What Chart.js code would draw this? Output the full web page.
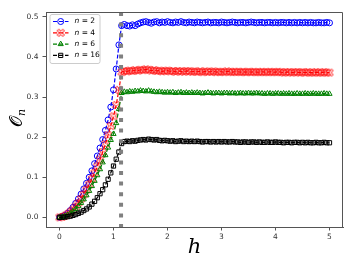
<!DOCTYPE html>
<html>
<head>
<meta charset="utf-8">
<script src="https://cdn.jsdelivr.net/npm/chart.js@4.4.0/dist/chart.umd.min.js"></script>
<style>
  html, body { margin: 0; padding: 0; background: #fff; }
  #wrap { width: 355px; height: 272px; }
</style>
</head>
<body>
<div id="wrap"><canvas id="orderChart" width="355" height="272"></canvas></div>
<script>
// field values h, rows of 10
const hValues = [
  0.00, 0.05, 0.10, 0.15, 0.20, 0.25, 0.30, 0.35, 0.40, 0.45,
  0.50, 0.55, 0.60, 0.65, 0.70, 0.75, 0.80, 0.85, 0.90, 0.95,
  1.00, 1.05, 1.10, 1.15, 1.20, 1.25, 1.30, 1.35, 1.40, 1.45,
  1.50, 1.55, 1.60, 1.65, 1.70, 1.75, 1.80, 1.85, 1.90, 1.95,
  2.00, 2.05, 2.10, 2.15, 2.20, 2.25, 2.30, 2.35, 2.40, 2.45,
  2.50, 2.55, 2.60, 2.65, 2.70, 2.75, 2.80, 2.85, 2.90, 2.95,
  3.00, 3.05, 3.10, 3.15, 3.20, 3.25, 3.30, 3.35, 3.40, 3.45,
  3.50, 3.55, 3.60, 3.65, 3.70, 3.75, 3.80, 3.85, 3.90, 3.95,
  4.00, 4.05, 4.10, 4.15, 4.20, 4.25, 4.30, 4.35, 4.40, 4.45,
  4.50, 4.55, 4.60, 4.65, 4.70, 4.75, 4.80, 4.85, 4.90, 4.95,
  5.00
];

const orderN2 = [
  0.000, 0.002, 0.005, 0.010, 0.017, 0.025, 0.035, 0.046, 0.058, 0.071,
  0.085, 0.100, 0.116, 0.134, 0.153, 0.173, 0.194, 0.217, 0.243, 0.275,
  0.318, 0.370, 0.430, 0.478, 0.481, 0.478, 0.477, 0.480, 0.478, 0.482,
  0.485, 0.487, 0.488, 0.486, 0.484, 0.487, 0.488, 0.485, 0.487, 0.486,
  0.488, 0.486, 0.485, 0.487, 0.486, 0.488, 0.486, 0.485, 0.487, 0.486,
  0.485, 0.487, 0.486, 0.485, 0.486, 0.487, 0.485, 0.486, 0.486, 0.485,
  0.487, 0.486, 0.485, 0.486, 0.487, 0.486, 0.485, 0.486, 0.486, 0.485,
  0.486, 0.487, 0.486, 0.485, 0.486, 0.486, 0.485, 0.486, 0.486, 0.485,
  0.486, 0.485, 0.486, 0.486, 0.485, 0.486, 0.485, 0.486, 0.485, 0.486,
  0.485, 0.486, 0.485, 0.486, 0.485, 0.485, 0.486, 0.485, 0.485, 0.486,
  0.485
];

const orderN4 = [
  0.000, 0.001, 0.004, 0.008, 0.013, 0.019, 0.027, 0.036, 0.046, 0.057,
  0.069, 0.082, 0.096, 0.111, 0.127, 0.144, 0.163, 0.183, 0.205, 0.228,
  0.252, 0.280, 0.318, 0.362, 0.365, 0.364, 0.366, 0.365, 0.367, 0.366,
  0.368, 0.367, 0.369, 0.368, 0.366, 0.367, 0.365, 0.366, 0.364, 0.365,
  0.366, 0.364, 0.365, 0.363, 0.365, 0.364, 0.363, 0.365, 0.364, 0.363,
  0.364, 0.363, 0.364, 0.362, 0.364, 0.363, 0.363, 0.364, 0.362, 0.363,
  0.363, 0.362, 0.364, 0.363, 0.362, 0.363, 0.363, 0.362, 0.363, 0.362,
  0.363, 0.362, 0.363, 0.362, 0.362, 0.363, 0.362, 0.362, 0.363, 0.362,
  0.362, 0.363, 0.362, 0.361, 0.362, 0.362, 0.361, 0.362, 0.362, 0.361,
  0.362, 0.361, 0.362, 0.361, 0.361, 0.362, 0.361, 0.361, 0.362, 0.361,
  0.361
];

const orderN6 = [
  0.000, 0.001, 0.003, 0.006, 0.010, 0.015, 0.021, 0.028, 0.036, 0.045,
  0.055, 0.066, 0.078, 0.091, 0.105, 0.120, 0.137, 0.155, 0.174, 0.193,
  0.208, 0.235, 0.270, 0.310, 0.313, 0.312, 0.314, 0.313, 0.315, 0.314,
  0.316, 0.315, 0.314, 0.316, 0.314, 0.313, 0.312, 0.313, 0.312, 0.311,
  0.312, 0.311, 0.312, 0.310, 0.311, 0.312, 0.310, 0.311, 0.310, 0.311,
  0.310, 0.311, 0.310, 0.309, 0.310, 0.311, 0.310, 0.309, 0.310, 0.310,
  0.309, 0.310, 0.310, 0.309, 0.310, 0.309, 0.309, 0.310, 0.309, 0.309,
  0.310, 0.309, 0.309, 0.310, 0.309, 0.309, 0.308, 0.309, 0.309, 0.308,
  0.309, 0.309, 0.308, 0.309, 0.308, 0.309, 0.308, 0.308, 0.309, 0.308,
  0.308, 0.309, 0.308, 0.308, 0.309, 0.308, 0.308, 0.308, 0.309, 0.308,
  0.308
];

const orderN16 = [
  0.0000, 0.0002, 0.0008, 0.0018, 0.003, 0.005, 0.007, 0.010, 0.013, 0.017,
  0.021, 0.026, 0.033, 0.040, 0.049, 0.059, 0.069, 0.081, 0.095, 0.111,
  0.128, 0.145, 0.163, 0.184, 0.189, 0.190, 0.189, 0.191, 0.190, 0.192,
  0.193, 0.194, 0.193, 0.195, 0.194, 0.193, 0.194, 0.192, 0.191, 0.192,
  0.191, 0.190, 0.191, 0.189, 0.190, 0.191, 0.189, 0.190, 0.189, 0.190,
  0.189, 0.190, 0.189, 0.188, 0.189, 0.189, 0.188, 0.189, 0.188, 0.189,
  0.188, 0.189, 0.188, 0.188, 0.189, 0.188, 0.188, 0.187, 0.188, 0.188,
  0.187, 0.188, 0.188, 0.187, 0.188, 0.187, 0.187, 0.188, 0.187, 0.187,
  0.188, 0.187, 0.187, 0.186, 0.187, 0.187, 0.186, 0.187, 0.187, 0.186,
  0.187, 0.186, 0.187, 0.186, 0.186, 0.187, 0.186, 0.186, 0.187, 0.186,
  0.186
];

const nLabels = ['2', '4', '6', '16'];
const xTicks = [0, 1, 2, 3, 4, 5];
const yTicks = [0.0, 0.1, 0.2, 0.3, 0.4, 0.5];
const hCritical = 1.14;

// hollow "X" marker like matplotlib's 'X' with no face
function makeXMarker(color) {
  const c = document.createElement('canvas');
  c.width = 10; c.height = 10;
  const g = c.getContext('2d');
  const r = 4, a = 0.28, k = Math.SQRT1_2;
  const pts = [[-a,1],[a,1],[a,a],[1,a],[1,-a],[a,-a],[a,-1],[-a,-1],[-a,-a],[-1,-a],[-1,a],[-a,a]];
  g.beginPath();
  pts.forEach(([px, py], i) => {
    const x = 5 + r * (px * k - py * k);
    const y = 5 + r * (px * k + py * k);
    if (i) g.lineTo(x, y); else g.moveTo(x, y);
  });
  g.closePath();
  g.strokeStyle = color;
  g.lineWidth = 1;
  g.stroke();
  return c;
}

const redX = makeXMarker('#ff0000');

function toPoints(vals) {
  return vals.map((v, i) => ({ x: hValues[i], y: v }));
}

const seriesDefs = [
  { data: orderN2, color: '#0000ff', style: 'circle', order: 3 },
  { data: orderN4, color: '#ff0000', style: redX, order: 2 },
  { data: orderN6, color: '#008000', style: 'triangle', order: 1 },
  { data: orderN16, color: '#000000', style: 'rect', order: 0 }
];

const tickFont = { family: 'DejaVu Sans', size: 7.5 };

const decorPlugin = {
  id: 'decor',
  afterDatasetsDraw(chart) {
    const { ctx, chartArea, scales } = chart;
    // dotted vertical line at the critical field
    const px = scales.x.getPixelForValue(hCritical);
    ctx.save();
    ctx.strokeStyle = '#808080';
    ctx.lineWidth = 4;
    ctx.setLineDash([4, 6.6]);
    ctx.beginPath();
    ctx.moveTo(px, chartArea.top);
    ctx.lineTo(px, chartArea.bottom);
    ctx.stroke();
    ctx.restore();
  },
  afterDraw(chart) {
    const { ctx, chartArea } = chart;
    ctx.save();
    // top and right spines
    ctx.strokeStyle = '#555';
    ctx.lineWidth = 1;
    ctx.beginPath();
    ctx.moveTo(Math.round(chartArea.left) + 0.5, Math.round(chartArea.top) + 0.5);
    ctx.lineTo(Math.round(chartArea.right) - 0.5, Math.round(chartArea.top) + 0.5);
    ctx.lineTo(Math.round(chartArea.right) - 0.5, Math.round(chartArea.bottom));
    ctx.stroke();

    // legend
    const lx = chartArea.left + 3.5, ly = chartArea.top + 2;
    ctx.fillStyle = 'rgba(255,255,255,0.85)';
    ctx.strokeStyle = '#cccccc';
    ctx.beginPath();
    ctx.roundRect(lx + 0.5, ly + 0.5, 50, 49, 2);
    ctx.fill();
    ctx.stroke();
    seriesDefs.forEach((s, i) => {
      const y = ly + 7.5 + i * 11.3;
      ctx.save();
      ctx.strokeStyle = s.color;
      ctx.lineWidth = 1.2;
      ctx.setLineDash([4, 2]);
      ctx.beginPath();
      ctx.moveTo(lx + 3.5, y);
      ctx.lineTo(lx + 19, y);
      ctx.stroke();
      ctx.setLineDash([]);
      ctx.fillStyle = 'rgba(0,0,0,0)';
      ctx.lineWidth = 1;
      Chart.helpers.drawPoint(ctx, { pointStyle: s.style, radius: 3, rotation: 0, borderWidth: 1 }, lx + 11.2, y);
      ctx.restore();
      ctx.fillStyle = '#000';
      ctx.textBaseline = 'middle';
      ctx.textAlign = 'left';
      ctx.font = 'italic 7.5px "DejaVu Sans"';
      ctx.fillText('n', lx + 25, y);
      const nw = ctx.measureText('n').width;
      ctx.font = '7.5px "DejaVu Sans"';
      ctx.fillText(' = ' + nLabels[i], lx + 25 + nw, y);
    });

    // axis titles
    ctx.fillStyle = '#000';
    ctx.textAlign = 'center';
    ctx.textBaseline = 'alphabetic';
    ctx.font = 'italic 21px "DejaVu Serif"';
    ctx.fillText('h', (chartArea.left + chartArea.right) / 2, 253);

    ctx.save();
    ctx.translate(22, 118);
    ctx.rotate(-Math.PI / 2);
    ctx.textAlign = 'left';
    ctx.font = '17px "DejaVu Serif", "DejaVu Sans", serif';
    let big = '\u{1D4AA}';
    if (Math.abs(ctx.measureText(big).width - ctx.measureText('\u{10FFFD}').width) < 0.01) {
      big = 'O';
      ctx.font = 'italic 17px "DejaVu Serif"';
    }
    const bw = ctx.measureText(big).width;
    ctx.font = 'italic 11px "DejaVu Serif"';
    const sw = ctx.measureText('n').width;
    const x0 = -(bw + sw) / 2;
    ctx.font = big === 'O' ? 'italic 17px "DejaVu Serif"' : '17px "DejaVu Serif", "DejaVu Sans", serif';
    ctx.fillText(big, x0, 0);
    ctx.font = 'italic 11px "DejaVu Serif"';
    ctx.fillText('n', x0 + bw, 3);
    ctx.restore();
    ctx.restore();
  }
};

new Chart(document.getElementById('orderChart'), {
  type: 'line',
  data: {
    datasets: seriesDefs.map((s, i) => ({
      label: 'n = ' + nLabels[i],
      data: toPoints(s.data),
      borderColor: s.color,
      backgroundColor: 'rgba(0,0,0,0)',
      pointBorderColor: s.color,
      pointBackgroundColor: 'rgba(0,0,0,0)',
      pointStyle: s.style,
      pointRadius: 3,
      pointBorderWidth: 1,
      borderWidth: 1.2,
      borderDash: [4, 2],
      tension: 0,
      order: s.order,
      clip: false
    }))
  },
  options: {
    responsive: false,
    devicePixelRatio: 1,
    animation: false,
    layout: { padding: { left: 0, right: 12, top: 12, bottom: 0 } },
    plugins: { legend: { display: false }, tooltip: { enabled: false } },
    scales: {
      x: {
        type: 'linear',
        min: -0.25,
        max: 5.25,
        afterFit: s => { s.height = 45; },
        afterBuildTicks: s => { s.ticks = xTicks.map(v => ({ value: v })); },
        ticks: { font: tickFont, color: '#333', padding: 2, maxRotation: 0, autoSkip: false, callback: v => String(v) },
        grid: { drawOnChartArea: false, drawTicks: true, tickLength: 3.5, tickColor: '#555' },
        border: { color: '#555', width: 1 }
      },
      y: {
        type: 'linear',
        min: -0.024,
        max: 0.512,
        afterFit: s => { s.width = 46; },
        afterBuildTicks: s => { s.ticks = yTicks.map(v => ({ value: v })); },
        ticks: { font: tickFont, color: '#333', padding: 4, autoSkip: false, callback: v => v.toFixed(1) },
        grid: { drawOnChartArea: false, drawTicks: true, tickLength: 3.5, tickColor: '#555' },
        border: { color: '#555', width: 1 }
      }
    }
  },
  plugins: [decorPlugin]
});
</script>
</body>
</html>
